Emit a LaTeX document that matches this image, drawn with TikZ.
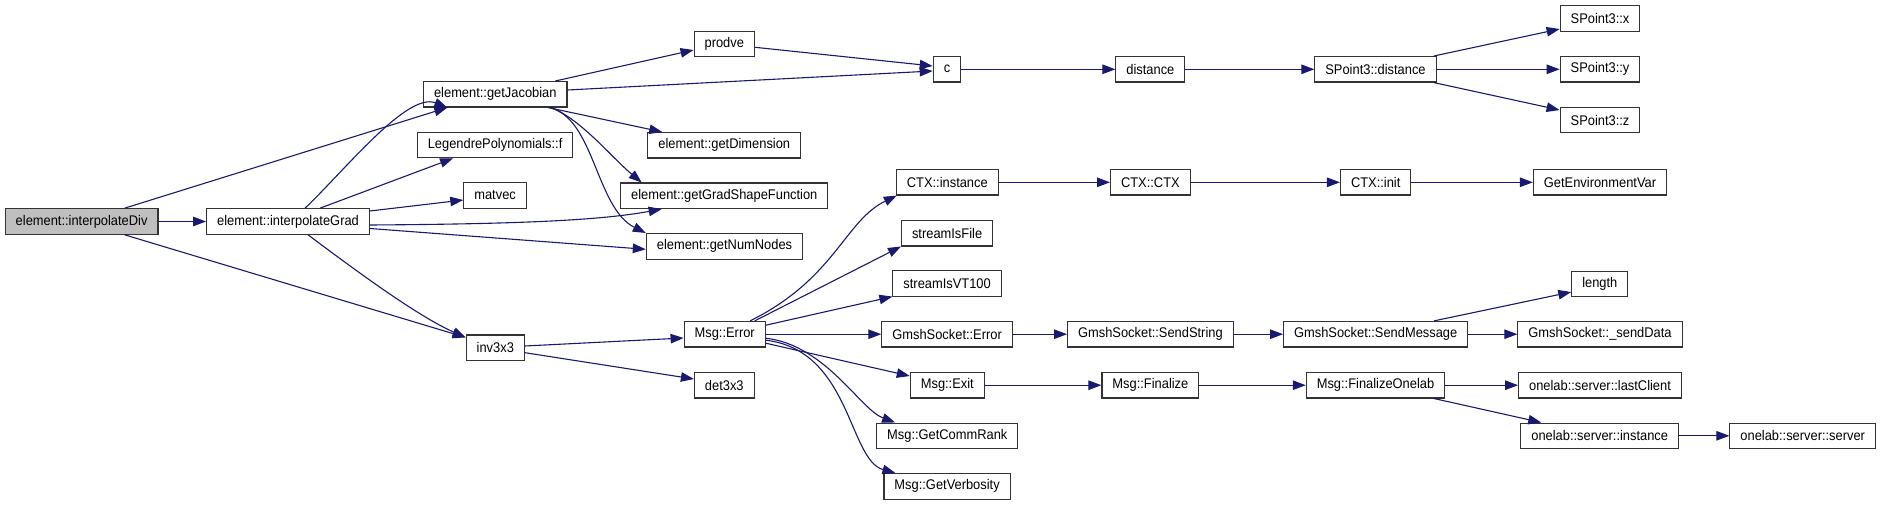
\documentclass[tikz,border=0pt]{standalone}
\usepackage{fontspec}
\setmainfont{Liberation Sans}[FakeStretch=0.92]
\usepackage{xcolor}
\usetikzlibrary{arrows.meta}
\definecolor{edgeblue}{RGB}{25,25,112}
\definecolor{rootgray}{RGB}{191,191,191}
\tikzset{
  fn/.style    = {draw=black!80, line width=1.1pt, fill=white, inner xsep=10.5pt, inner ysep=0pt,
                  minimum height=25.5pt, font=\fontsize{14}{16}\selectfont},
  rootfn/.style = {fn, fill=rootgray},
  call/.style  = {-{Triangle[length=13pt,width=9.5pt]}, line width=1.1pt, draw=edgeblue},
}

\begin{document}
\begin{tikzpicture}[x=1pt, y=-1pt]
  \useasboundingbox (0,0) rectangle (1881,505);
  % columns of the call graph
  \node[rootfn] (div) at (81.6,221.5) {element::interpolateDiv};
  \node[fn] (grad) at (288,221.5) {element::interpolateGrad};
  \node[fn] (jac) at (495.3,94.3) {element::getJacobian};
  \node[fn] (leg) at (495.1,145) {LegendrePolynomials::f};
  \node[fn] (matvec) at (495.1,195.5) {matvec};
  \node[fn] (inv) at (495.3,347.7) {inv3x3};
  \node[fn] (prodve) at (724.3,44) {prodve};
  \node[fn] (dim) at (724.3,145.3) {element::getDimension};
  \node[fn] (gsf) at (724.3,195.8) {element::getGradShapeFunction};
  \node[fn] (nn) at (724.5,246.3) {element::getNumNodes};
  \node[fn] (err) at (724.7,334.2) {Msg::Error};
  \node[fn] (det) at (724.3,385.2) {det3x3};
  \node[fn] (c) at (947,69.3) {c};
  \node[fn] (ctxi) at (947.3,182.3) {CTX::instance};
  \node[fn] (sfile) at (947.1,233.2) {streamIsFile};
  \node[fn] (vt) at (947.1,283.3) {streamIsVT100};
  \node[fn] (gse) at (947.1,334.2) {GmshSocket::Error};
  \node[fn] (exit) at (947.3,385.2) {Msg::Exit};
  \node[fn] (rank) at (947.3,435.8) {Msg::GetCommRank};
  \node[fn] (verb) at (947.1,486.3) {Msg::GetVerbosity};
  \node[fn] (dist) at (1150.4,69.3) {distance};
  \node[fn] (ctx) at (1150.4,182.3) {CTX::CTX};
  \node[fn] (sstr) at (1150.4,334.2) {GmshSocket::SendString};
  \node[fn] (fin) at (1150.4,385.2) {Msg::Finalize};
  \node[fn] (spd) at (1375.5,69.3) {SPoint3::distance};
  \node[fn] (init) at (1375.7,182.3) {CTX::init};
  \node[fn] (smsg) at (1375.7,334.2) {GmshSocket::SendMessage};
  \node[fn] (fol) at (1375.5,385.2) {Msg::FinalizeOnelab};
  \node[fn] (spx) at (1600,18.5) {SPoint3::x};
  \node[fn] (spy) at (1600,69.3) {SPoint3::y};
  \node[fn] (spz) at (1600,120) {SPoint3::z};
  \node[fn] (env) at (1600,182.3) {GetEnvironmentVar};
  \node[fn] (len) at (1599.8,284) {length};
  \node[fn] (sdata) at (1600,334.2) {GmshSocket::\_sendData};
  \node[fn] (last) at (1600,385.2) {onelab::server::lastClient};
  \node[fn] (olsi) at (1599.7,435.8) {onelab::server::instance};
  \node[fn] (olss) at (1802.7,435.8) {onelab::server::server};
  % calls
  \draw[call] ([xshift=43]div.north) -- ([xshift=-48]jac.south);
  \draw[call] (div) -- (grad);
  \draw[call] ([xshift=43]div.south) -- ([yshift=-3]inv.north west);
  \draw[call] ([xshift=17]grad.north) .. controls +(40,-38) and +(-40,-16) .. ([xshift=-48]jac.south);
  \draw[call] ([xshift=32]grad.north) -- ([xshift=-42]leg.south);
  \draw[call] ([yshift=10.5]grad.east) -- ([yshift=-4.5]matvec.west);
  \draw[call] ([yshift=-3.5]grad.east) .. controls +(150,-1) and +(-62,11.3) .. ([xshift=-62.6]gsf.south);
  \draw[call] ([yshift=-7]grad.east) -- ([yshift=-3]nn.west);
  \draw[call] ([xshift=20]grad.south) .. controls +(60,45) and +(-45,-20) .. ([yshift=-3]inv.north west);
  \draw[call] ([xshift=60]jac.north) -- ([yshift=-6]prodve.west);
  \draw[call] ([yshift=4.3]jac.east) -- ([yshift=-1.7]c.west);
  \draw[call] ([xshift=53]jac.south) -- ([xshift=-62]dim.north);
  \draw[call] ([xshift=56]jac.south) .. controls +(30,12) and +(-30,-25) .. ([xshift=-82.6]gsf.north);
  \draw[call] ([xshift=54]jac.south) .. controls +(45,10) and +(-50,-25) .. (nn.north west);
  \draw[call] ([yshift=-3.3]prodve.east) -- ([yshift=3.3]c.west);
  \draw[call] (c) -- (dist);
  \draw[call] (dist) -- (spd);
  \draw[call] ([xshift=58.4]spd.north) -- ([yshift=-10.5]spx.west);
  \draw[call] (spd) -- (spy);
  \draw[call] ([xshift=58.4]spd.south) -- ([yshift=10]spz.west);
  \draw[call] ([yshift=1.7]inv.east) -- ([yshift=-3.8]err.west);
  \draw[call] ([yshift=-5]inv.east) -- ([yshift=6.2]det.west);
  \draw[call] ([xshift=25.3]err.north) .. controls +(85,-42) and +(-52,25) .. ([xshift=1]ctxi.south west);
  \draw[call] ([xshift=30]err.north) -- (sfile.south west);
  \draw[call] ([yshift=9]err.east) -- (vt.south west);
  \draw[call] (err) -- (gse);
  \draw[call] ([yshift=-9]err.east) -- ([yshift=9.2]exit.west);
  \draw[call] ([yshift=-4]err.east) .. controls +(60,7) and +(-35,-13) .. ([xshift=19]rank.north west);
  \draw[call] ([yshift=-6]err.east) .. controls +(85,10) and +(-47,-13) .. ([xshift=12]verb.north west);
  \draw[call] (ctxi) -- (ctx);
  \draw[call] (ctx) -- (init);
  \draw[call] (init) -- (env);
  \draw[call] (gse) -- (sstr);
  \draw[call] (sstr) -- (smsg);
  \draw[call] ([xshift=58.2]smsg.north) -- ([yshift=-8]len.west);
  \draw[call] (smsg) -- (sdata);
  \draw[call] (exit) -- (fin);
  \draw[call] (fin) -- (fol);
  \draw[call] (fol) -- (last);
  \draw[call] ([xshift=58.4]fol.south) -- ([xshift=21]olsi.north west);
  \draw[call] (olsi) -- (olss);
\end{tikzpicture}
\end{document}
